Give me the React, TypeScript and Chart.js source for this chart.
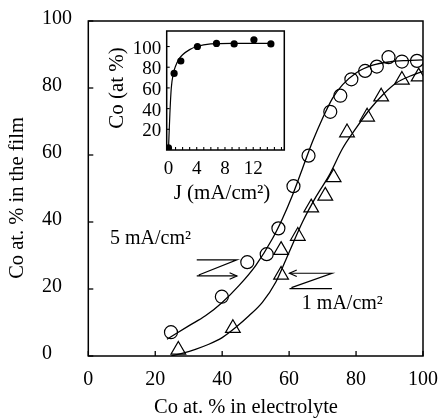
import React, { useEffect, useRef } from 'react';
import { Chart, registerables } from 'chart.js';

Chart.register(...registerables);

const FONT = "'Liberation Serif', 'Times New Roman', serif";

// ---- main chart data ----
const xTickValues = [0, 20, 40, 60, 80, 100];
const yTickValues = [0, 20, 40, 60, 80, 100];

// 5 mA/cm2 (open circles)
const circleX = [24.7, 39.9, 47.5, 53.3, 56.8, 61.3, 65.8, 72.3, 75.3, 78.6, 82.7, 86.2, 89.7, 93.7, 98.2];
const circleY = [7.1, 17.7, 28.0, 30.4, 38.1, 50.7, 59.8, 72.9, 77.7, 82.6, 85.1, 86.4, 89.2, 87.9, 88.1];

// 1 mA/cm2 (open triangles)
const triX = [26.9, 43.2, 57.6, 57.6, 62.6, 66.6, 70.8, 73.3, 77.3, 83.3, 87.5, 93.7, 98.7];
const triY = [1.8, 8.3, 24.2, 31.6, 35.8, 44.3, 47.8, 53.3, 66.7, 71.4, 77.4, 82.4, 83.4];

// fitted curves
const fit5X = [23.5, 30, 35, 40, 45, 50, 55, 58, 61, 64, 67, 70, 73, 76, 80, 85, 90, 95, 100];
const fit5Y = [5, 9, 12, 16, 21, 27, 35, 41, 48, 56, 64, 71, 77, 81, 84.5, 86.8, 87.8, 88.2, 88.4];
const fit1X = [24.8, 28, 32, 36, 40, 44, 48, 52, 56, 60, 64, 68, 72, 76, 80, 84, 88, 92, 96, 100];
const fit1Y = [0, 0.8, 2, 3.5, 5.5, 8.5, 12, 16, 22, 31, 40, 47.5, 54, 62, 68, 73.5, 78, 81.5, 83.5, 85];

// ---- inset data ----
const insetJ = [0, 0.8, 1.75, 4.1, 6.8, 9.3, 12.1, 14.5];
const insetCo = [2, 74, 86, 100, 103, 102.5, 106.5, 102.5];
const insetFitJ = [0, 0.2, 0.4, 0.7, 1, 1.5, 2, 3, 4, 6, 9, 12, 14.6];
const insetFitCo = [0, 35, 60, 74, 81, 88, 92, 97, 100, 102.5, 103, 103, 103];
const insetXTicks = [0, 1, 2, 3, 4, 5, 6, 7, 8, 9, 10, 11, 12, 13, 14, 15, 16];
const insetXLabels = [0, 4, 8, 12];
const insetYTicks = [20, 40, 60, 80, 100];

// ---- annotations (data units) ----
const label5 = { text: '5 mA/cm\u00B2', x: 6.5, y: 35.1 };
const label1 = { text: '1 mA/cm\u00B2', x: 63.8, y: 15.7 };
const arrow5 = { x1: 32.4, x2: 44.4, yTop: 28.7, yBot: 23.9 };
const arrow1 = { x1: 60.1, x2: 72.8, yTop: 24.7, yBot: 20.1 };

const zip = (xs: number[], ys: number[]) => xs.map((x, i) => ({ x, y: ys[i] }));

function arrowHead(ctx: CanvasRenderingContext2D, x: number, y: number, dir: number) {
  const L = 8;
  const a = 0.42;
  ctx.beginPath();
  ctx.moveTo(x - dir * L * Math.cos(a), y - L * Math.sin(a));
  ctx.lineTo(x, y);
  ctx.lineTo(x - dir * L * Math.cos(a), y + L * Math.sin(a));
  ctx.stroke();
}

const noPad = (s: any) => {
  s.paddingLeft = 0;
  s.paddingRight = 0;
  s.paddingTop = 0;
  s.paddingBottom = 0;
};

const mainDecor = {
  id: 'mainDecor',
  afterDraw(chart: any) {
    const { ctx, chartArea: a, scales } = chart;
    const sx = scales.x;
    const sy = scales.y;
    ctx.save();
    ctx.strokeStyle = '#000';
    ctx.fillStyle = '#000';
    // frame
    ctx.lineWidth = 1.5;
    ctx.strokeRect(a.left, a.top, a.right - a.left, a.bottom - a.top);
    // inward ticks
    ctx.lineWidth = 1.3;
    xTickValues.forEach((v) => {
      const px = sx.getPixelForValue(v);
      ctx.beginPath();
      ctx.moveTo(px, a.bottom);
      ctx.lineTo(px, a.bottom - 5);
      ctx.stroke();
    });
    yTickValues.forEach((v) => {
      const py = sy.getPixelForValue(v);
      ctx.beginPath();
      ctx.moveTo(a.left, py);
      ctx.lineTo(a.left + 5, py);
      ctx.stroke();
    });
    // axis titles
    ctx.font = `20.5px ${FONT}`;
    ctx.textAlign = 'center';
    ctx.textBaseline = 'middle';
    ctx.fillText('Co at. % in electrolyte', 246, 408);
    ctx.save();
    ctx.translate(18, 198);
    ctx.rotate(-Math.PI / 2);
    ctx.fillText('Co at. % in the film', 0, 0);
    ctx.restore();
    // labels
    ctx.font = `20px ${FONT}`;
    ctx.textAlign = 'left';
    ctx.fillText(label5.text, sx.getPixelForValue(label5.x), sy.getPixelForValue(label5.y));
    ctx.fillText(label1.text, sx.getPixelForValue(label1.x), sy.getPixelForValue(label1.y));
    // arrow for 5 mA/cm2 (points right)
    ctx.lineWidth = 1.2;
    {
      const x1 = sx.getPixelForValue(arrow5.x1);
      const x2 = sx.getPixelForValue(arrow5.x2);
      const yt = sy.getPixelForValue(arrow5.yTop);
      const yb = sy.getPixelForValue(arrow5.yBot);
      ctx.beginPath();
      ctx.moveTo(x1, yt);
      ctx.lineTo(x2, yt);
      ctx.lineTo(x1 + 2, yb - 1);
      ctx.moveTo(x1, yb);
      ctx.lineTo(x2, yb);
      ctx.stroke();
      arrowHead(ctx, x2, yb, 1);
    }
    // arrow for 1 mA/cm2 (points left)
    {
      const x1 = sx.getPixelForValue(arrow1.x1);
      const x2 = sx.getPixelForValue(arrow1.x2);
      const yt = sy.getPixelForValue(arrow1.yTop);
      const yb = sy.getPixelForValue(arrow1.yBot);
      ctx.beginPath();
      ctx.moveTo(x1, yt);
      ctx.lineTo(x2, yt);
      ctx.lineTo(x1 + 2, yb - 1);
      ctx.moveTo(x1, yb);
      ctx.lineTo(x2, yb);
      ctx.stroke();
      arrowHead(ctx, x1, yt, -1);
    }
    ctx.restore();
  },
};

const insetDecor = {
  id: 'insetDecor',
  afterDraw(chart: any) {
    const { ctx, chartArea: a, scales } = chart;
    const sx = scales.x;
    const sy = scales.y;
    ctx.save();
    ctx.strokeStyle = '#000';
    ctx.fillStyle = '#000';
    ctx.lineWidth = 1.5;
    ctx.strokeRect(a.left, a.top, a.right - a.left, a.bottom - a.top);
    ctx.lineWidth = 1.1;
    insetXTicks.forEach((v) => {
      const px = sx.getPixelForValue(v);
      ctx.beginPath();
      ctx.moveTo(px, a.bottom);
      ctx.lineTo(px, a.bottom - 3);
      ctx.stroke();
    });
    insetYTicks.forEach((v) => {
      const py = sy.getPixelForValue(v);
      ctx.beginPath();
      ctx.moveTo(a.left, py);
      ctx.lineTo(a.left + 3, py);
      ctx.stroke();
    });
    ctx.font = `21px ${FONT}`;
    ctx.textAlign = 'center';
    ctx.textBaseline = 'middle';
    ctx.fillText('J (mA/cm\u00B2)', 127, 168);
    ctx.save();
    ctx.translate(22, 63);
    ctx.rotate(-Math.PI / 2);
    ctx.fillText('Co (at %)', 0, 0);
    ctx.restore();
    ctx.restore();
  },
};

export default function App() {
  const mainRef = useRef<HTMLCanvasElement>(null);
  const insetRef = useRef<HTMLCanvasElement>(null);

  useEffect(() => {
    const tickFont = { family: FONT, size: 20 };
    const main = new Chart(mainRef.current as HTMLCanvasElement, {
      type: 'scatter',
      data: {
        datasets: [
          {
            data: zip(fit5X, fit5Y),
            showLine: true,
            pointRadius: 0,
            borderColor: '#000',
            borderWidth: 1.3,
            cubicInterpolationMode: 'monotone',
          },
          {
            data: zip(fit1X, fit1Y),
            showLine: true,
            pointRadius: 0,
            borderColor: '#000',
            borderWidth: 1.3,
            cubicInterpolationMode: 'monotone',
          },
          {
            data: zip(circleX, circleY),
            pointStyle: 'circle',
            pointRadius: 6.5,
            pointBackgroundColor: 'rgba(255,255,255,0)',
            pointBorderColor: '#000',
            pointBorderWidth: 1.2,
          },
          {
            data: zip(triX, triY),
            pointStyle: 'triangle',
            pointRadius: 8.5,
            pointBackgroundColor: 'rgba(255,255,255,0)',
            pointBorderColor: '#000',
            pointBorderWidth: 1.2,
          },
        ],
      } as any,
      options: {
        animation: false,
        responsive: false,
        devicePixelRatio: 1,
        events: [],
        layout: { padding: { left: 42, top: 21, right: 18, bottom: 0 } },
        plugins: { legend: { display: false }, tooltip: { enabled: false } },
        scales: {
          x: {
            type: 'linear',
            min: 0,
            max: 100,
            afterBuildTicks: (s: any) => {
              s.ticks = xTickValues.map((v) => ({ value: v }));
            },
            afterFit: (s: any) => {
              s.height = 63;
              noPad(s);
            },
            grid: { display: false, drawTicks: false },
            border: { display: false },
            ticks: { font: tickFont, color: '#000', padding: 12, maxRotation: 0, autoSkip: false },
          },
          y: {
            type: 'linear',
            min: 0,
            max: 100,
            afterBuildTicks: (s: any) => {
              s.ticks = yTickValues.map((v) => ({ value: v }));
            },
            afterFit: (s: any) => {
              s.width = 46.3;
              noPad(s);
            },
            grid: { display: false, drawTicks: false },
            border: { display: false },
            ticks: { font: tickFont, color: '#000', crossAlign: 'far', labelOffset: -2, autoSkip: false },
          },
        },
      } as any,
      plugins: [mainDecor],
    });

    const insetFont = { family: FONT, size: 19 };
    const inset = new Chart(insetRef.current as HTMLCanvasElement, {
      type: 'scatter',
      data: {
        datasets: [
          {
            data: zip(insetFitJ, insetFitCo),
            showLine: true,
            pointRadius: 0,
            borderColor: '#000',
            borderWidth: 1.2,
            cubicInterpolationMode: 'monotone',
          },
          {
            data: zip(insetJ, insetCo),
            pointStyle: 'circle',
            pointRadius: 3.6,
            pointBackgroundColor: '#000',
            pointBorderColor: '#000',
            pointBorderWidth: 0,
          },
        ],
      } as any,
      options: {
        animation: false,
        responsive: false,
        devicePixelRatio: 1,
        events: [],
        layout: { padding: { left: 0, top: 6, right: 10.7, bottom: 0 } },
        plugins: { legend: { display: false }, tooltip: { enabled: false } },
        scales: {
          x: {
            type: 'linear',
            min: -0.25,
            max: 16.4,
            afterBuildTicks: (s: any) => {
              s.ticks = insetXLabels.map((v) => ({ value: v }));
            },
            afterFit: (s: any) => {
              s.height = 60;
              noPad(s);
            },
            grid: { display: false, drawTicks: false },
            border: { display: false },
            ticks: { font: insetFont, color: '#000', padding: 8, maxRotation: 0, autoSkip: false },
          },
          y: {
            type: 'linear',
            min: 0,
            max: 115,
            afterBuildTicks: (s: any) => {
              s.ticks = insetYTicks.map((v) => ({ value: v }));
            },
            afterFit: (s: any) => {
              s.width = 71.7;
              noPad(s);
            },
            grid: { display: false, drawTicks: false },
            border: { display: false },
            ticks: { font: insetFont, color: '#000', padding: 5.5, labelOffset: 2, autoSkip: false },
          },
        },
      } as any,
      plugins: [insetDecor],
    });

    return () => {
      main.destroy();
      inset.destroy();
    };
  }, []);

  return (
    <div style={{ position: 'absolute', left: 0, top: 0, width: 441, height: 419, background: '#fff' }}>
      <canvas
        ref={mainRef}
        width={441}
        height={419}
        style={{ position: 'absolute', left: 0, top: 0, width: 441, height: 419 }}
      />
      <canvas
        ref={insetRef}
        width={200}
        height={185}
        style={{ position: 'absolute', left: 95, top: 25, width: 200, height: 185 }}
      />
    </div>
  );
}
